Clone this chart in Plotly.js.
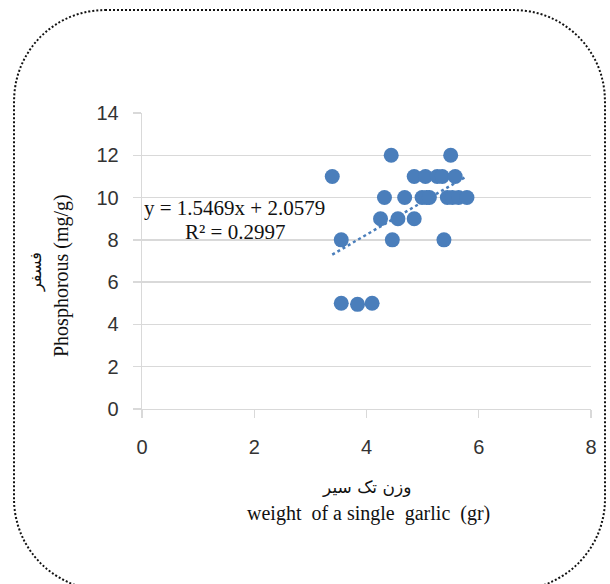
<!DOCTYPE html>
<html>
<head>
<meta charset="utf-8">
<script src="https://cdn.plot.ly/plotly-3.0.1.min.js"></script>
<style>
  html, body { margin:0; padding:0; background:#fff; }
  #wrap { position:relative; width:610px; height:584px; overflow:hidden; }
  #frame { position:absolute; left:13px; top:9px; width:593px; height:582px;
           border:2px dotted #111; border-radius:92px; box-sizing:border-box; }
  #chart { position:absolute; left:0; top:0; width:610px; height:584px; }
</style>
</head>
<body>
<div id="wrap">
  <div id="frame"></div>
  <div id="chart"></div>
</div>
<script>
// Data
const weight = [3.39, 4.44, 5.50, 4.85, 5.05, 5.26, 5.35, 5.58,
                4.32, 4.68, 4.99, 5.07, 5.12, 5.44, 5.53, 5.64, 5.79,
                4.25, 4.56, 4.85, 3.55, 4.46, 5.38, 3.55, 3.84, 4.10];
const phosphorous = [11, 12, 12, 11, 11, 11, 11, 11,
                     10, 10, 10, 10, 10, 10, 10, 10, 10,
                     9, 9, 9, 8, 8, 8, 5, 4.95, 5];
const slope = 1.5469;
const intercept = 2.0579;
const eqText = "y = 1.5469x + 2.0579";
const r2Text = "R² = 0.2997";
const xTicks = [0, 2, 4, 6, 8];
const yTicks = [0, 2, 4, 6, 8, 10, 12, 14];

const xMin = Math.min(...weight), xMax = Math.max(...weight);
const trendX = [xMin, xMax];
const trendY = trendX.map(v => slope * v + intercept);

const blue = '#4a7ebb';
const traces = [
  { x: trendX, y: trendY, type: 'scatter', mode: 'lines',
    line: { color: blue, width: 2.5, dash: 'dot' }, hoverinfo: 'skip' },
  { x: weight, y: phosphorous, type: 'scatter', mode: 'markers',
    marker: { color: blue, size: 15 } }
];

// pixel -> paper helpers (plot area 142..591 x, 113..409 y)
const L = 142, R = 19, T = 113, B = 175, W = 610, H = 584;
const pw = W - L - R, ph = H - T - B;
const px = v => (v - L) / pw;
const py = v => (H - B - v) / ph;

const serif = 'Liberation Serif, Times New Roman, serif';
const layout = {
  width: W, height: H,
  margin: { l: L, r: R, t: T, b: B, pad: 0 },
  paper_bgcolor: 'rgba(0,0,0,0)', plot_bgcolor: 'rgba(0,0,0,0)',
  showlegend: false,
  xaxis: {
    range: [0, 8], tickvals: xTicks, ticktext: xTicks.map(String),
    showgrid: false, zeroline: false, showline: true, linecolor: '#d9d9d9', linewidth: 1.3,
    ticks: 'outside', ticklen: 8, tickcolor: '#d9d9d9', tickwidth: 1.3,
    ticklabelstandoff: 12,
    tickfont: { family: 'Liberation Sans, Arial, sans-serif', size: 20, color: '#333' }
  },
  yaxis: {
    range: [0, 14], tickvals: yTicks, ticktext: yTicks.map(String),
    showgrid: true, gridcolor: '#d9d9d9', gridwidth: 1.3,
    zeroline: false, showline: true, linecolor: '#d9d9d9', linewidth: 1.3,
    ticks: 'outside', ticklen: 8, tickcolor: '#d9d9d9', tickwidth: 1.3,
    ticklabelstandoff: 10,
    tickfont: { family: 'Liberation Sans, Arial, sans-serif', size: 20, color: '#333' }
  },
  annotations: [
    { xref: 'paper', yref: 'paper', x: px(234), y: py(208), text: eqText, showarrow: false,
      font: { family: serif, size: 21, color: '#111' }, xanchor: 'center', yanchor: 'middle' },
    { xref: 'paper', yref: 'paper', x: px(235), y: py(232), text: r2Text, showarrow: false,
      font: { family: serif, size: 21, color: '#111' }, xanchor: 'center', yanchor: 'middle' },
    { xref: 'paper', yref: 'paper', x: px(61), y: py(276), text: 'Phosphorous (mg/g)', showarrow: false,
      textangle: -90, font: { family: serif, size: 20, color: '#111' }, xanchor: 'center', yanchor: 'middle' },
    { xref: 'paper', yref: 'paper', x: px(36), y: py(272), text: 'فسفر', showarrow: false,
      textangle: -90, font: { family: 'DejaVu Sans, sans-serif', size: 16, color: '#111' }, xanchor: 'center', yanchor: 'middle' },
    { xref: 'paper', yref: 'paper', x: px(366), y: py(487), text: 'وزن تک سیر', showarrow: false,
      font: { family: 'DejaVu Sans, sans-serif', size: 17, color: '#111' }, xanchor: 'center', yanchor: 'middle' },
    { xref: 'paper', yref: 'paper', x: px(368), y: py(513), text: 'weight&nbsp; of a single&nbsp; garlic&nbsp; (gr)', showarrow: false,
      font: { family: serif, size: 20, color: '#111' }, xanchor: 'center', yanchor: 'middle' }
  ]
};

Plotly.newPlot('chart', traces, layout, { displayModeBar: false, staticPlot: true });
</script>
</body>
</html>
